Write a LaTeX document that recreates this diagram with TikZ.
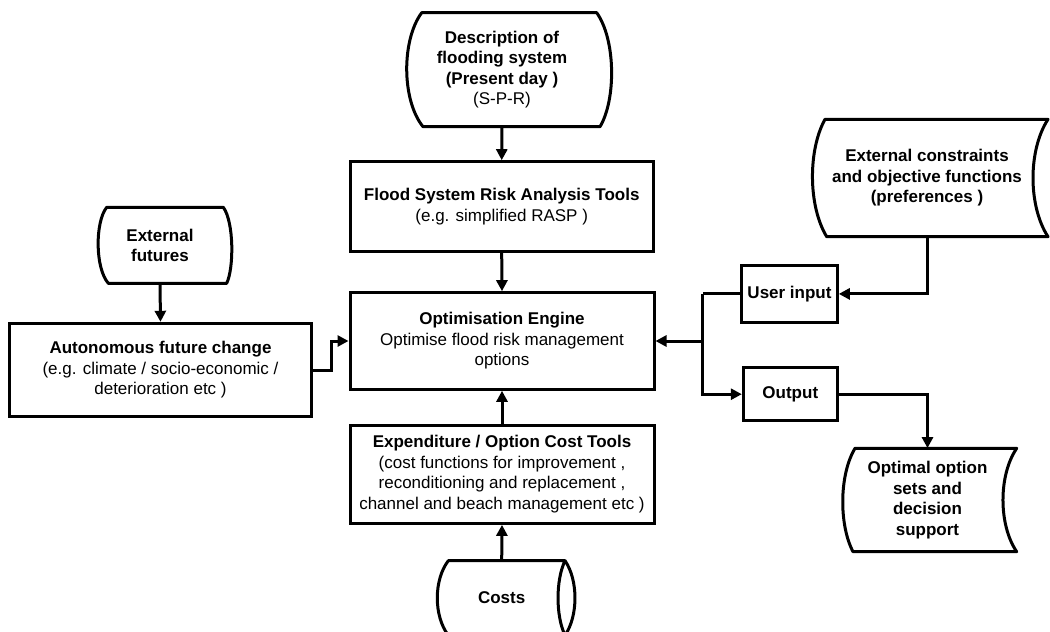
\documentclass[tikz,border=0pt]{standalone}
\usepackage{fontspec}
\setmainfont{Liberation Sans}
\usetikzlibrary{arrows.meta}
\begin{document}
\begin{tikzpicture}[x=1pt,y=-1pt,
  txt/.style={inner sep=0pt,align=center,font=\fontsize{17}{20.5}\selectfont},
  boxnode/.style={txt,draw,line width=3pt},
  outline/.style={line width=3pt,line join=round},
  arr/.style={line width=3pt,-{Triangle[length=11pt,width=11pt]}},
  conn/.style={line width=3pt}]
\useasboundingbox (0,0) rectangle (1050,632);
% shaped outlines
\draw[outline] (421.7,12.7) -- (596.7,12.7) .. controls (616,40) and (616,100) .. (600,126.7)
  -- (423,126.7) .. controls (401.5,100) and (401.5,40) .. (421.7,12.7) -- cycle;
\draw[outline] (106.7,207.3) -- (223.3,207.3) .. controls (234,222) and (234,268) .. (226.7,283.3)
  -- (108.3,283.3) .. controls (95,268) and (95,222) .. (106.7,207.3) -- cycle;
\draw[outline] (825,119.3) -- (1048,119.3) .. controls (1028,150) and (1028,206) .. (1048,236.7)
  -- (826.7,236.7) .. controls (808,206) and (808,150) .. (825,119.3) -- cycle;
\draw[outline] (448.3,560.7) -- (565,560.7) .. controls (555.7,580) and (555.7,616) .. (565,635.3)
  -- (448.3,635.3) .. controls (433.6,616) and (433.6,580) .. (448.3,560.7) -- cycle;
\draw[outline] (565,560.7) .. controls (578.3,580) and (578.3,616) .. (565,635.3);
\draw[outline] (855,448.3) -- (1016.7,448.3) .. controls (998.4,475) and (998.4,525) .. (1016.7,551.7)
  -- (853,551.7) .. controls (839,525) and (839,475) .. (855,448.3) -- cycle;
% nodes
\node[txt,minimum height=114pt] (desc) at (502,69.7)
  {\textbf{Description of}\\\textbf{flooding system}\\\textbf{(Present day )}\\(S-P-R)};
\node[boxnode,minimum width=303.3pt,minimum height=90pt] (flood) at (501.7,206.7)
  {\textbf{Flood System Risk Analysis Tools}\\(e.g. simplified RASP )};
\node[boxnode,minimum width=304pt,minimum height=96.6pt] (eng) at (502,341)
  {\textbf{Optimisation Engine}\\Optimise flood risk management\\options};
\node[boxnode,minimum width=304pt,minimum height=98.3pt] (exp) at (502,474.2)
  {\textbf{Expenditure / Option Cost Tools}\\(cost functions for improvement ,\\reconditioning and replacement ,\\channel and beach management etc )};
\node[boxnode,minimum width=302.4pt,minimum height=93.4pt] (auto) at (160.5,370)
  {\textbf{Autonomous future change}\\(e.g. climate / socio-economic /\\deterioration etc )};
\node[boxnode,minimum width=95.6pt,minimum height=57.7pt] (ui) at (789.5,293.9)
  {\textbf{User input}};
\node[boxnode,minimum width=94pt,minimum height=53pt] (out) at (790.3,394.2)
  {\textbf{Output}};
\node[txt,minimum height=76pt] (ef) at (160,245.3)
  {\textbf{External}\\\textbf{futures}};
\node[txt,minimum height=117.4pt] (ec) at (927,178)
  {\textbf{External constraints}\\\textbf{and objective functions}\\\textbf{(preferences )}};
\node[txt,minimum height=74.6pt] (costs) at (501.7,598)
  {\textbf{Costs}};
\node[txt,minimum height=103.4pt] (optn) at (927.5,500)
  {\textbf{Optimal option}\\\textbf{sets and}\\\textbf{decision}\\\textbf{support}};
% connectors
\draw[arr] (desc.south) -- (flood.north);
\draw[arr] (flood.south) -- (eng.north);
\draw[arr] (exp.north) -- (eng.south);
\draw[arr] (costs.north) -- (exp.south);
\draw[arr] (ef.south) -- (auto.north);
\draw[arr] (auto.east) -- ++(18,0) |- (eng.west);
\draw[arr] (ec.south) |- (ui.east);
\draw[conn] (ui.west) -- ++(-37.7,0) coordinate (j);
\draw[arr] (j) |- (out.west);
\draw[arr] (j |- eng.east) -- (eng.east);
\draw[arr] (out.east) -| (optn.north);
\end{tikzpicture}
\end{document}
